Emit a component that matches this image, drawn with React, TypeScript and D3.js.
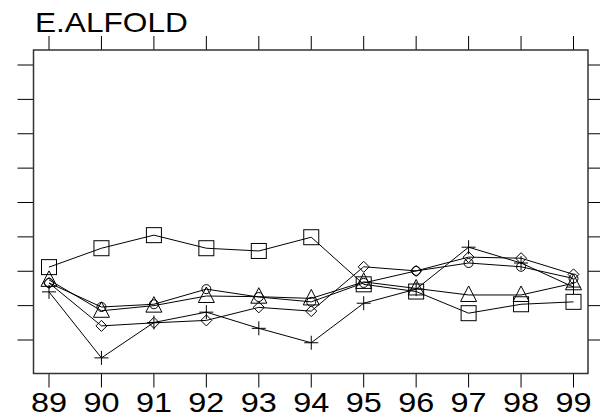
import React from "react";
import * as d3 from "d3";

const years = [89, 90, 91, 92, 93, 94, 95, 96, 97, 98, 99];
const yearLabels = ["89", "90", "91", "92", "93", "94", "95", "96", "97", "98", "99"];
const yTicks = [1, 2, 3, 4, 5, 6, 7, 8, 9];

const squareSeries = [3.12, 3.67, 4.05, 3.67, 3.59, 3.99, 2.62, 2.41, 1.78, 2.04, 2.11];
const triangleSeries = [2.75, 1.85, 2.0, 2.28, 2.26, 2.21, 2.69, 2.5, 2.31, 2.31, 2.65];
const circleSeries = [2.66, 1.96, 2.04, 2.48, 2.25, 2.11, 2.66, 3.01, 3.24, 3.13, 2.79];
const diamondSeries = [2.66, 1.41, 1.5, 1.57, 1.95, 1.84, 3.13, 3.01, 3.41, 3.38, 2.91];
const plusSeries = [2.4, 0.48, 1.51, 1.81, 1.34, 0.92, 2.07, 2.48, 3.7, 3.24, 2.54];

const title = "E.ALFOLD";

const W = 600;
const H = 418;
const frame = { left: 33.5, right: 588, top: 50, bottom: 373.5 };

const x = d3.scaleLinear().domain([89, 99]).range([49, 573.5]);
const y = d3.scaleLinear().domain([1, 9]).range([340, 65]);

type Shape = "square" | "triangle" | "circle" | "diamond" | "plus";

const seriesList: { values: number[]; shape: Shape }[] = [
  { values: squareSeries, shape: "square" },
  { values: triangleSeries, shape: "triangle" },
  { values: circleSeries, shape: "circle" },
  { values: diamondSeries, shape: "diamond" },
  { values: plusSeries, shape: "plus" },
];

function Marker({ shape, cx, cy }: { shape: Shape; cx: number; cy: number }) {
  const common = { fill: "none", stroke: "#000", strokeWidth: 1 };
  switch (shape) {
    case "square":
      return <rect x={cx - 7.5} y={cy - 7.5} width={15} height={15} {...common} />;
    case "triangle":
      return (
        <path
          d={`M${cx},${cy - 9} L${cx + 8},${cy + 6.5} L${cx - 8},${cy + 6.5} Z`}
          {...common}
        />
      );
    case "circle":
      return <circle cx={cx} cy={cy} r={4.5} {...common} />;
    case "diamond":
      return (
        <path
          d={`M${cx},${cy - 5.5} L${cx + 5.5},${cy} L${cx},${cy + 5.5} L${cx - 5.5},${cy} Z`}
          {...common}
        />
      );
    case "plus":
      return (
        <path
          d={`M${cx - 7},${cy} L${cx + 7},${cy} M${cx},${cy - 7} L${cx},${cy + 7}`}
          {...common}
        />
      );
  }
}

export default function App() {
  const line = d3
    .line<number>()
    .x((_, i) => x(years[i]))
    .y((d) => y(d));

  return (
    <svg
      width={W}
      height={H}
      viewBox={`0 0 ${W} ${H}`}
      style={{ position: "absolute", left: 0, top: 0, display: "block", background: "#fff" }}
      fontFamily="'Liberation Sans', Arial, sans-serif"
    >
      <rect x={0} y={0} width={W} height={H} fill="#fff" />
      {/* title */}
      <text
        transform={`translate(35,32.3) scale(1.15,1)`}
        fontSize={27.5}
        fill="#000"
      >
        {title}
      </text>

      {/* ticks top & bottom */}
      {years.map((yr) => (
        <g key={`xt${yr}`}>
          <line x1={x(yr)} x2={x(yr)} y1={frame.top} y2={frame.top - 14} stroke="#000" strokeWidth={1} />
          <line x1={x(yr)} x2={x(yr)} y1={frame.bottom} y2={frame.bottom + 14} stroke="#000" strokeWidth={1} />
        </g>
      ))}
      {/* ticks left & right */}
      {yTicks.map((v) => (
        <g key={`yt${v}`}>
          <line x1={frame.left} x2={frame.left - 16} y1={y(v)} y2={y(v)} stroke="#000" strokeWidth={1} />
          <line x1={frame.right} x2={frame.right + 14} y1={y(v)} y2={y(v)} stroke="#000" strokeWidth={1} />
        </g>
      ))}

      {/* frame */}
      <rect
        x={frame.left}
        y={frame.top}
        width={frame.right - frame.left}
        height={frame.bottom - frame.top}
        fill="none"
        stroke="#333"
        strokeWidth={1.5}
      />

      {/* x labels */}
      {years.map((yr, i) => (
        <text
          key={`xl${yr}`}
          transform={`translate(${x(yr)},411.5) scale(1.2,1)`}
          textAnchor="middle"
          fontSize={27}
          fill="#000"
        >
          {yearLabels[i]}
        </text>
      ))}

      {/* series */}
      {seriesList.map((s, si) => (
        <g key={`s${si}`}>
          <path d={line(s.values) || ""} fill="none" stroke="#000" strokeWidth={1} />
          {s.values.map((v, i) => (
            <Marker key={i} shape={s.shape} cx={x(years[i])} cy={y(v)} />
          ))}
        </g>
      ))}
    </svg>
  );
}
